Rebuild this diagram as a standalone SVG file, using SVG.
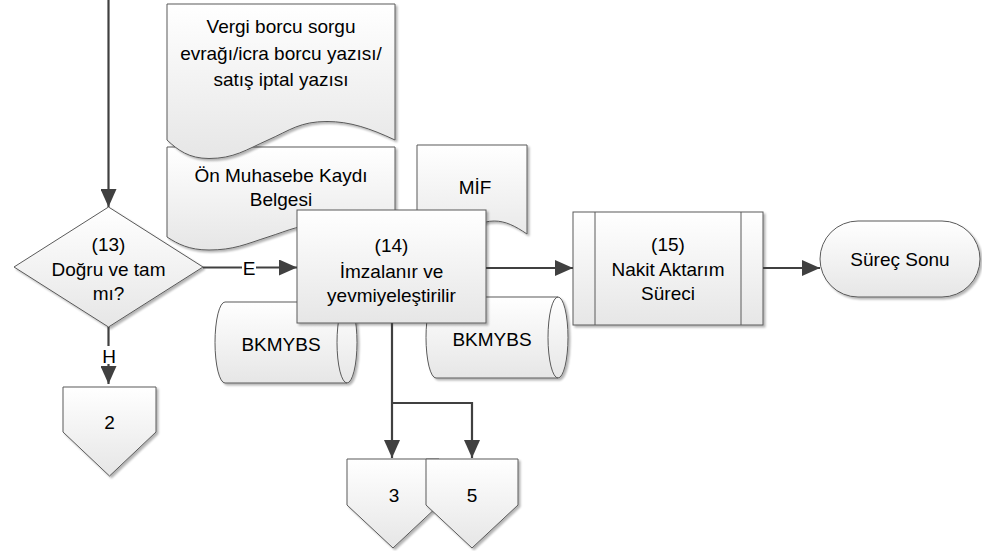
<svg xmlns="http://www.w3.org/2000/svg" width="982" height="551" viewBox="0 0 982 551">
<defs>
  <linearGradient id="g" x1="0" y1="0" x2="0" y2="1">
    <stop offset="0" stop-color="#ffffff"/>
    <stop offset="1" stop-color="#e6e6e6"/>
  </linearGradient>
  <filter id="sh" x="-10%" y="-10%" width="130%" height="130%">
    <feGaussianBlur in="SourceAlpha" stdDeviation="1.2"/>
    <feOffset dx="2" dy="2" result="o"/>
    <feComponentTransfer><feFuncA type="linear" slope="0.3"/></feComponentTransfer>
    <feMerge><feMergeNode/><feMergeNode in="SourceGraphic"/></feMerge>
  </filter>
  <marker id="ah" markerUnits="userSpaceOnUse" markerWidth="18" markerHeight="16" refX="18" refY="8" orient="auto">
    <path d="M0,0 L18,8 L0,16 Z" fill="#404040"/>
  </marker>
</defs>
<style>
  .s{fill:url(#g);stroke:#5a5a5a;stroke-width:1;filter:url(#sh)}
  .ln{fill:none;stroke:#5a5a5a;stroke-width:1}
  .t{font-family:"Liberation Sans",Arial,sans-serif;font-size:19px;fill:#000;text-anchor:middle}
  .c{fill:none;stroke:#404040;stroke-width:2.2;marker-end:url(#ah)}
</style>

<g id="doc-onmuhasebe">
  <path class="s" d="M167,147 H395 V237 C370,229 350,224 327,224 C300,224 290,230 268,237 C246,244 234,250 209,250 C189,250 178,244 167,237 Z"/>
  <text class="t" x="281" y="182">Ön Muhasebe Kaydı</text>
  <text class="t" x="281" y="206">Belgesi</text>
</g>
<g id="doc-mif">
  <path class="s" d="M417,145 H527 V234 C514.9,225.8 505.3,221 494.2,221 C481.2,221 476.3,227.1 465.7,234 C455.1,240.9 449.3,247 437.2,247 C427.5,247 422.3,241.2 417,234 Z"/>
  <text class="t" x="475" y="194">MİF</text>
</g>
<g id="doc-vergi">
  <path class="s" d="M167,4 H395 V140 C370,128.3 350,121.5 327,121.5 C300,121.5 290,130.2 268,140 C246,149.8 234,158.5 209,158.5 C189,158.5 178,150.2 167,140 Z"/>
  <text class="t" x="281" y="33">Vergi borcu sorgu</text>
  <text class="t" x="281" y="59.5">evrağı/icra borcu yazısı/</text>
  <text class="t" x="281" y="86">satış iptal yazısı</text>
</g>
<g id="decision13">
  <polygon class="s" points="108.5,207 203,267 108.5,327 14,267"/>
  <text class="t" x="108.5" y="251">(13)</text>
  <text class="t" x="108.5" y="276">Doğru ve tam</text>
  <text class="t" x="108.5" y="300">mı?</text>
</g>
<g id="db1">
  <path class="s" d="M225,302 H347 A10,40.5 0 0 1 347,383 H225 A10,40.5 0 0 1 225,302 Z"/>
  <path class="ln" d="M347,302 A10,40.5 0 0 0 347,383"/>
  <text class="t" x="281" y="351">BKMYBS</text>
</g>
<g id="db2">
  <path class="s" d="M436,297 H558 A10,40.5 0 0 1 558,378 H436 A10,40.5 0 0 1 436,297 Z"/>
  <path class="ln" d="M558,297 A10,40.5 0 0 0 558,378"/>
  <text class="t" x="492" y="346">BKMYBS</text>
</g>
<g id="process14">
  <rect class="s" x="297" y="210" width="189" height="113"/>
  <text class="t" x="391.5" y="252">(14)</text>
  <text class="t" x="391.5" y="277.5">İmzalanır ve</text>
  <text class="t" x="391.5" y="302">yevmiyeleştirilir</text>
</g>
<g id="subprocess15">
  <rect class="s" x="573" y="212" width="190" height="113"/>
  <line class="ln" x1="595" y1="212" x2="595" y2="325"/>
  <line class="ln" x1="741" y1="212" x2="741" y2="325"/>
  <text class="t" x="668" y="251">(15)</text>
  <text class="t" x="668" y="275.5">Nakit Aktarım</text>
  <text class="t" x="668" y="300">Süreci</text>
</g>
<g id="end">
  <rect class="s" x="820" y="221" width="160" height="76" rx="38" ry="38"/>
  <text class="t" x="900" y="266">Süreç Sonu</text>
</g>
<g id="offpage2">
  <polygon class="s" points="63,387 156,387 156,432 109.5,476 63,432"/>
  <text class="t" x="109.5" y="429">2</text>
</g>
<g id="offpage3">
  <polygon class="s" points="347,459 439,459 439,505 393,548 347,505"/>
  <text class="t" x="394" y="502">3</text>
</g>
<g id="offpage5">
  <polygon class="s" points="426,459 518,459 518,505 472,548 426,505"/>
  <text class="t" x="472" y="502">5</text>
</g>

<g id="connectors">
  <path class="c" d="M108.5,0 V207"/>
  <path class="c" d="M203,267.5 H297"/>
  <rect x="242" y="259" width="14" height="18" fill="#ffffff"/>
  <text class="t" x="249" y="275">E</text>
  <path class="c" d="M108.5,327 V384"/>
  <rect x="101" y="346" width="16" height="18" fill="#ffffff"/>
  <text class="t" x="109" y="363">H</text>
  <path class="c" d="M486,268 H573"/>
  <path class="c" d="M763,268 H820"/>
  <path class="c" d="M392,323 V458"/>
  <path class="c" d="M392,403 H472 V458"/>
</g>
</svg>
